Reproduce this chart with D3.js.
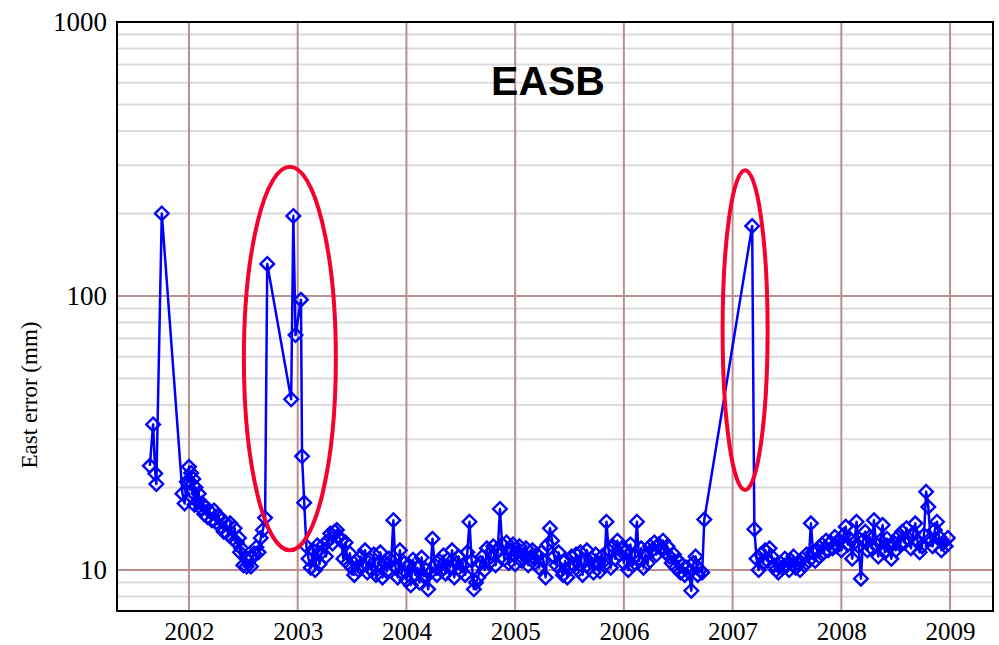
<!DOCTYPE html>
<html><head><meta charset="utf-8">
<script src="https://cdn.jsdelivr.net/npm/d3@7"></script>
<style>body{margin:0;background:#fff}</style>
</head><body><svg id="c" width="999" height="645"></svg>
<script>
// ---- data (decimal year, east error in mm) ----
const epochs = [
2001.64,2001.67,2001.69,2001.70,2001.75,2001.94,2001.96,2001.98,
2002.00,2002.01,2002.02,2002.03,2002.04,2002.05,2002.06,2002.08,2002.09,2002.11,
2002.12,2002.14,2002.15,2002.17,2002.19,2002.21,2002.23,2002.25,2002.27,2002.29,
2002.30,2002.32,2002.34,2002.36,2002.38,2002.40,2002.42,2002.44,2002.46,2002.47,
2002.48,2002.50,2002.52,2002.53,2002.55,2002.57,2002.58,2002.60,2002.62,2002.64,
2002.66,2002.68,2002.70,2002.72,2002.94,2002.96,2002.98,2003.03,2003.04,2003.06,
2003.08,2003.10,2003.12,2003.14,2003.16,2003.18,2003.20,2003.22,2003.24,2003.26,
2003.28,2003.30,2003.32,2003.34,2003.36,2003.38,2003.40,2003.42,2003.44,2003.46,
2003.48,2003.50,2003.52,2003.54,2003.56,2003.58,2003.60,2003.62,2003.64,2003.66,
2003.68,2003.70,2003.72,2003.74,2003.76,2003.78,2003.80,2003.82,2003.84,2003.86,
2003.88,2003.90,2003.92,2003.94,2003.96,2003.98,2004.00,2004.02,2004.04,2004.06,
2004.08,2004.10,2004.12,2004.14,2004.16,2004.18,2004.20,2004.22,2004.24,2004.26,
2004.28,2004.30,2004.32,2004.34,2004.36,2004.38,2004.40,2004.42,2004.44,2004.46,
2004.48,2004.50,2004.52,2004.54,2004.56,2004.58,2004.60,2004.62,2004.64,2004.66,
2004.68,2004.70,2004.72,2004.74,2004.76,2004.78,2004.80,2004.82,2004.84,2004.86,
2004.88,2004.90,2004.92,2004.94,2004.96,2004.98,2005.00,2005.02,2005.04,2005.06,
2005.08,2005.10,2005.12,2005.14,2005.16,2005.18,2005.20,2005.22,2005.24,2005.26,
2005.28,2005.30,2005.32,2005.34,2005.36,2005.38,2005.40,2005.42,2005.44,2005.46,
2005.48,2005.50,2005.52,2005.54,2005.56,2005.58,2005.60,2005.62,2005.64,2005.66,
2005.68,2005.70,2005.72,2005.74,2005.76,2005.78,2005.80,2005.82,2005.84,2005.86,
2005.88,2005.90,2005.92,2005.94,2005.96,2005.98,2006.00,2006.02,2006.04,2006.06,
2006.08,2006.10,2006.12,2006.14,2006.16,2006.18,2006.20,2006.22,2006.24,2006.26,
2006.28,2006.30,2006.32,2006.34,2006.36,2006.38,2006.40,2006.42,2006.44,2006.46,
2006.48,2006.50,2006.52,2006.54,2006.56,2006.58,2006.60,2006.62,2006.64,2006.66,
2006.68,2006.70,2006.72,2006.74,
2007.18,2007.20,2007.22,2007.24,2007.26,2007.28,2007.30,2007.32,2007.34,2007.36,
2007.38,2007.40,2007.42,2007.44,2007.46,2007.48,2007.50,2007.52,2007.54,2007.56,
2007.58,2007.60,2007.62,2007.64,2007.66,2007.68,2007.70,2007.72,2007.74,2007.76,
2007.78,2007.80,2007.82,2007.84,2007.86,2007.88,2007.90,2007.92,2007.94,2007.96,
2007.98,2008.00,2008.02,2008.04,2008.06,2008.08,2008.10,2008.12,2008.14,2008.16,
2008.18,2008.20,2008.22,2008.24,2008.26,2008.28,2008.30,2008.32,2008.34,2008.36,
2008.38,2008.40,2008.42,2008.44,2008.46,2008.48,2008.50,2008.52,2008.54,2008.56,
2008.58,2008.60,2008.62,2008.64,2008.66,2008.68,2008.70,2008.72,2008.74,2008.76,
2008.78,2008.80,2008.82,2008.84,2008.86,2008.88,2008.90,2008.92,2008.94,2008.96,
2008.98
];
const eastError = [
24,34,22.5,20.6,200,19,17.5,21,
23.8,21.0,22.6,19.3,21.5,17.3,20.0,17.7,19.0,16.8,
17.5,16.0,17.0,15.6,16.4,15.2,16.5,14.9,15.8,14.4,
15.2,13.8,14.8,13.5,14.8,13.0,14.2,12.6,13.1,11.6,
12.0,10.4,11.1,10.3,10.8,10.3,11.1,11.5,12.1,11.6,
13.1,14.0,15.5,131,42,196,72,97,26,17.6,
12.2,11.0,10.2,11.8,10.0,12.3,10.5,11.6,12.4,11.2,
12.8,13.6,12.5,13.8,14.0,13.2,12.8,11.0,12.6,10.6,
11.5,10.2,9.6,10.8,10.0,11.2,10.4,11.8,9.8,10.9,
10.0,11.4,9.6,10.5,11.6,9.4,10.6,9.9,11.0,10.8,
15.2,10.2,9.4,11.8,9.8,10.6,9.2,10.4,8.8,10.9,
9.6,10.2,9.0,11.1,9.5,10.0,8.5,9.8,13.0,10.4,
9.6,10.8,10.0,11.3,9.7,10.9,10.2,11.8,9.4,10.6,
11.2,9.9,10.4,9.6,11.6,15.0,10.8,8.5,9.0,9.4,
10.6,11.2,10.0,12.0,10.6,11.6,12.2,10.4,11.8,16.7,
12.4,11.0,12.6,10.6,11.8,12.4,10.5,11.6,12.2,10.8,
11.4,12.0,10.4,11.0,11.8,10.6,11.4,10.2,11.6,10.8,
9.4,12.4,14.2,12.8,11.2,10.4,11.6,10.0,9.6,10.8,
9.4,10.2,11.2,10.4,11.4,10.0,11.6,9.6,10.8,11.8,
10.2,11.0,9.8,11.4,10.6,9.9,11.2,10.4,15.0,11.8,
10.2,12.2,11.0,12.8,11.4,12.0,10.6,11.8,10.0,12.4,
10.4,11.2,15.0,10.8,12.0,10.2,11.4,10.6,12.2,11.8,
12.6,11.4,12.4,12.0,12.8,11.6,12.2,11.2,10.6,11.4,
10.2,10.8,9.8,10.4,9.6,10.2,9.8,8.4,10.6,11.2,
9.6,10.0,9.8,15.3,
180,14.1,11.0,10.0,11.4,10.6,11.8,10.8,12.0,11.2,
10.4,10.0,9.8,10.6,10.2,11.0,10.4,10.0,10.8,11.2,
10.2,10.6,10.0,11.0,10.4,11.4,10.8,14.8,11.6,10.8,
11.8,11.2,12.4,11.6,12.8,11.8,12.6,12.0,13.2,12.2,
12.8,11.8,13.4,14.4,12.4,13.0,11.0,12.6,15.0,12.2,
9.3,12.8,13.8,11.8,13.2,12.0,15.2,12.4,11.2,12.8,
14.6,11.6,13.0,12.2,11.0,12.6,11.8,13.2,12.4,13.8,
12.6,14.2,13.0,12.0,13.6,14.8,12.8,11.6,12.2,13.4,
19.3,17.0,13.0,12.2,14.0,15.0,13.2,11.8,12.6,12.2,
13.1
];
const xTickYears = [2002,2003,2004,2005,2006,2007,2008,2009];
const yTickValues = [10,100,1000];
const titleText = "EASB";
const yLabelText = "East error (mm)";
// highlight ellipses given in data units (year range, value range)
const ellipseYears = [[2002.505,2003.351],[2006.908,2007.322]];
const ellipseValues = [[11.8,296],[19.6,288]];

// ---- layout ----
const svg = d3.select("#c");
const L=117, R=993, T=22, B=611;
const x = d3.scaleLinear().domain([2001.338, 2009.395]).range([L, R]);
const y = d3.scaleLog().domain([7.087, 1000]).range([B, T]);

const gridMajor = "#bc8f8f", gridMinor = "#dcdcdc";

// minor horizontal gridlines
const minorVals = [];
[1,10,100].forEach(d=>{for(let k=1;k<=9;k++){const v=k*d; if(v>y.domain()[0] && v<1000 && !yTickValues.includes(v)) minorVals.push(v);}});
svg.append("g").selectAll("line").data(minorVals).join("line")
  .attr("x1",L).attr("x2",R).attr("y1",d=>y(d)).attr("y2",d=>y(d))
  .attr("stroke",gridMinor).attr("stroke-width",2);
// major horizontal
svg.append("g").selectAll("line").data(yTickValues.filter(v=>v<1000)).join("line")
  .attr("x1",L).attr("x2",R).attr("y1",d=>y(d)).attr("y2",d=>y(d))
  .attr("stroke",gridMajor).attr("stroke-width",2);
// vertical year lines
svg.append("g").selectAll("line").data(xTickYears).join("line")
  .attr("x1",d=>x(d)).attr("x2",d=>x(d)).attr("y1",T).attr("y2",B)
  .attr("stroke",gridMajor).attr("stroke-width",2);

// title
svg.append("text").attr("x",548).attr("y",95).attr("text-anchor","middle")
  .attr("font-family","Liberation Sans, Arial, sans-serif").attr("font-weight","bold")
  .attr("font-size",41).attr("fill","#000").text(titleText);

// data
const pts = epochs.map((e,i)=>[e,eastError[i]]);
svg.append("path").datum(pts)
  .attr("d", d3.line().x(d=>x(d[0])).y(d=>y(d[1])))
  .attr("fill","none").attr("stroke","#0000ff").attr("stroke-width",2.5).attr("stroke-linejoin","round");
const s = 6.8;
svg.append("g").selectAll("path").data(pts).join("path")
  .attr("transform",d=>`translate(${x(d[0])},${y(d[1])})`)
  .attr("d",`M0,${-s}L${s},0L0,${s}L${-s},0Z`)
  .attr("fill","none").attr("stroke","#0000ff").attr("stroke-width",2.4);

// ellipses
svg.append("g").selectAll("ellipse").data(ellipseYears.map((yr,i)=>({yr,v:ellipseValues[i]}))).join("ellipse")
  .attr("cx",d=>(x(d.yr[0])+x(d.yr[1]))/2)
  .attr("cy",d=>(y(d.v[0])+y(d.v[1]))/2)
  .attr("rx",d=>(x(d.yr[1])-x(d.yr[0]))/2)
  .attr("ry",d=>(y(d.v[0])-y(d.v[1]))/2)
  .attr("fill","none").attr("stroke","#f5002f").attr("stroke-width",4);

// frame
svg.append("rect").attr("x",L).attr("y",T).attr("width",R-L).attr("height",B-T)
  .attr("fill","none").attr("stroke","#000").attr("stroke-width",2);

// axes labels
const xAxis = d3.axisBottom(x).tickValues(xTickYears).tickSize(0).tickPadding(0).tickFormat(d3.format("d"));
const gx = svg.append("g").attr("transform",`translate(0,${B})`).call(xAxis);
gx.select(".domain").remove();
gx.selectAll("text").attr("font-family","Liberation Serif, Times New Roman, serif")
  .attr("font-size",25).attr("fill","#000").attr("dy","0.71em").attr("y",11);

const yAxis = d3.axisLeft(y).tickValues(yTickValues).tickSize(0).tickPadding(10).tickFormat(d3.format("d"));
const gy = svg.append("g").attr("transform",`translate(${L},0)`).call(yAxis);
gy.select(".domain").remove();
gy.selectAll("text").attr("font-family","Liberation Serif, Times New Roman, serif")
  .attr("font-size",27).attr("fill","#000").attr("dy","0.32em");

svg.append("text").attr("transform","translate(37,395) rotate(-90)")
  .attr("text-anchor","middle").attr("font-family","Liberation Serif, Times New Roman, serif")
  .attr("font-size",23).attr("fill","#000").text(yLabelText);
</script></body></html>
